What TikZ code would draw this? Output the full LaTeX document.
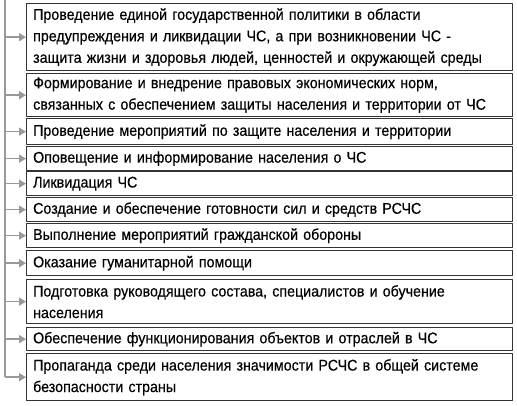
\documentclass[tikz,border=0pt]{standalone}
\usepackage{fontspec}
\setmainfont[FakeStretch=0.92,FakeBold=0.4]{Liberation Sans}
\usetikzlibrary{arrows.meta}
\begin{document}
\begin{tikzpicture}[x=1pt,y=1pt,line join=round,
 font=\fontsize{15.5}{21.5}\selectfont,
 task/.style={draw=black!80,line width=1.3pt,anchor=north west,align=left,
   text width=473pt,inner xsep=6.5pt,inner ysep=1pt},
 feed/.style={draw=black!40,line width=1.6pt,-{Triangle[length=7pt,width=8pt]}}]
 \useasboundingbox (0,0) rectangle (517,-405);
 % boxes
 \node[task,minimum height=67pt] (t1) at (26,-3) {Проведение единой государственной политики в области\\предупреждения и ликвидации ЧС, а при возникновении ЧС -\\защита жизни и здоровья людей, ценностей и окружающей среды};
 \node[task,minimum height=43pt] (t2) at (26,-73) {Формирование и внедрение правовых экономических норм,\\связанных с обеспечением защиты населения и территории от ЧС};
 \node[task,minimum height=26pt] (t3) at (26,-118) {Проведение мероприятий по защите населения и территории};
 \node[task,minimum height=24pt] (t4) at (26,-146) {Оповещение и информирование населения о ЧС};
 \node[task,minimum height=24pt] (t5) at (26,-171) {Ликвидация ЧС};
 \node[task,minimum height=24pt] (t6) at (26,-197) {Создание и обеспечение готовности сил и средств РСЧС};
 \node[task,minimum height=24pt] (t7) at (26,-223) {Выполнение мероприятий гражданской обороны};
 \node[task,minimum height=25pt] (t8) at (26,-250) {Оказание гуманитарной помощи};
 \node[task,minimum height=44pt] (t9) at (26,-279) {Подготовка руководящего состава, специалистов и обучение\\населения};
 \node[task,minimum height=23pt] (t10) at (26,-327) {Обеспечение функционирования объектов и отраслей в ЧС};
 \node[task,minimum height=47pt] (t11) at (26,-353) {Пропаганда среди населения значимости РСЧС в общей системе\\безопасности страны};
 % trunk
 \coordinate (top) at (5,0);
 \draw[draw=black!40,line width=1.6pt] (top) -- (top |- t11.west);
 \foreach \i in {1,...,11}
  \draw[feed] (top |- t\i.west) -- (t\i.west);
\end{tikzpicture}
\end{document}
